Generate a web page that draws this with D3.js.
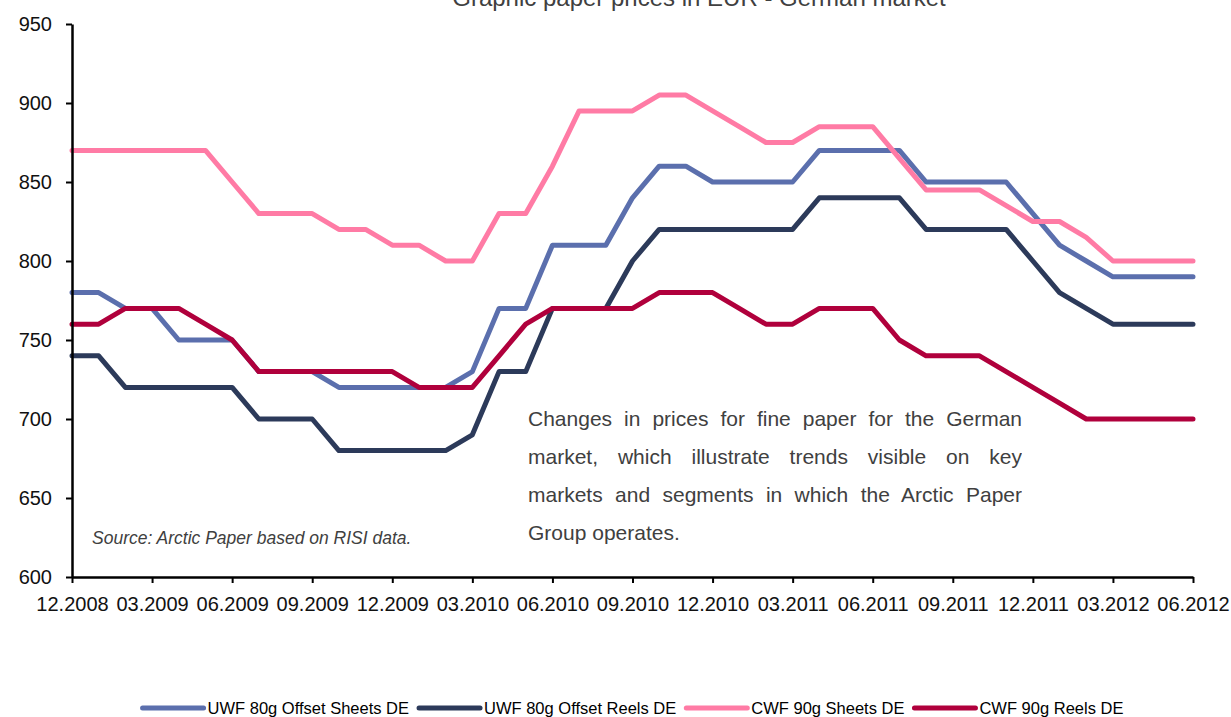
<!DOCTYPE html>
<html>
<head>
<meta charset="utf-8">
<script src="https://d3js.org/d3.v7.min.js"></script>
<style>
  body { margin: 0; background: #fff; font-family: "Liberation Sans", Arial, sans-serif; }
  .axis .domain { stroke: #000; stroke-width: 2.5px; }
  .axis line { stroke: #000; stroke-width: 2px; }
  .axis text { font-size: 20px; fill: #111; font-family: "Liberation Sans", Arial, sans-serif; }
  .note { font-size: 21px; color: #404040; line-height: 38px; font-family: "Liberation Sans", Arial, sans-serif; }
  .note span { display: block; text-align: justify; text-align-last: justify; }
  .note span.last { text-align-last: left; }
</style>
</head>
<body>
<svg id="chart" width="1231" height="717"></svg>
<script>
// month keys 12.2008 .. 06.2012
const months = [];
for (let i = 0; i < 43; i++) {
  const m = (11 + i) % 12 + 1, y = 2008 + Math.floor((11 + i) / 12);
  months.push((m < 10 ? "0" : "") + m + "." + y);
}
const tickLabels = ["12.2008","03.2009","06.2009","09.2009","12.2009","03.2010","06.2010","09.2010",
                    "12.2010","03.2011","06.2011","09.2011","12.2011","03.2012","06.2012"];
const yTicks = [600, 650, 700, 750, 800, 850, 900, 950];

const uwfSheets = [780,780,770,770,750,750,750,730,730,730,720,720,720,720,720,730,770,770,810,810,810,840,
                   860,860,850,850,850,850,870,870,870,870,850,850,850,850,830,810,800,790,790,790,790];
const uwfReels  = [740,740,720,720,720,720,720,700,700,700,680,680,680,680,680,690,730,730,770,770,770,800,
                   820,820,820,820,820,820,840,840,840,840,820,820,820,820,800,780,770,760,760,760,760];
const cwfSheets = [870,870,870,870,870,870,850,830,830,830,820,820,810,810,800,800,830,830,860,895,895,895,
                   905,905,895,885,875,875,885,885,885,865,845,845,845,835,825,825,815,800,800,800,800];
const cwfReels  = [760,760,770,770,770,760,750,730,730,730,730,730,730,720,720,720,740,760,770,770,770,770,
                   780,780,780,770,760,760,770,770,770,750,740,740,740,730,720,710,700,700,700,700,700];

const seriesNames = ["UWF 80g Offset Sheets DE", "UWF 80g Offset Reels DE", "CWF 90g Sheets DE", "CWF 90g Reels DE"];
const seriesColors = ["#5b6fad", "#2c3a5a", "#ff7ba5", "#b0003c"];
const seriesValues = [uwfSheets, uwfReels, cwfSheets, cwfReels];

const svg = d3.select("#chart");

const x = d3.scalePoint().domain(months).range([72, 1193]);
const y = d3.scaleLinear().domain([600, 950]).range([577, 24]);

// title (partly cut off at the top, like the source)
svg.append("text")
  .attr("x", 699).attr("y", 6)
  .attr("text-anchor", "middle")
  .style("font-size", "24px").style("fill", "#404040")
  .text("Graphic paper prices in EUR - German market");

// lines
const line = d3.line().x((d, i) => x(months[i])).y(d => y(d));
seriesValues.forEach((vals, k) => {
  svg.append("path")
    .datum(vals)
    .attr("d", line)
    .attr("fill", "none")
    .attr("stroke", seriesColors[k])
    .attr("stroke-width", 5)
    .attr("stroke-linejoin", "round")
    .attr("stroke-linecap", "round");
});

// axes
svg.append("g").attr("class", "axis")
  .attr("transform", "translate(72,0)")
  .call(d3.axisLeft(y).tickValues(yTicks).tickSize(6).tickSizeOuter(0).tickPadding(14).tickFormat(d3.format("d")));

svg.append("g").attr("class", "axis")
  .attr("transform", "translate(0,577)")
  .call(d3.axisBottom(x).tickValues(tickLabels).tickSize(6).tickSizeOuter(0).tickPadding(14));

// source note
svg.append("text")
  .attr("x", 92).attr("y", 544)
  .style("font-size", "17.5px").style("font-style", "italic").style("fill", "#404040")
  .text("Source: Arctic Paper based on RISI data.");

// justified commentary box
const noteLines = ["Changes in prices for fine paper for the German",
                   "market, which illustrate trends visible on key",
                   "markets and segments in which the Arctic Paper",
                   "Group operates."];
const fo = svg.append("foreignObject").attr("x", 528).attr("y", 400).attr("width", 494).attr("height", 160);
const note = fo.append("xhtml:div").attr("class", "note");
note.selectAll("span").data(noteLines).join("span")
  .attr("class", (d, i) => i === noteLines.length - 1 ? "last" : null)
  .text(d => d);

// legend
const legend = svg.append("g");
let lx = 0;
seriesNames.forEach((name, k) => {
  const g = legend.append("g").attr("transform", `translate(${lx},0)`);
  g.append("line").attr("x1", 2).attr("x2", 63).attr("y1", 0).attr("y2", 0)
    .attr("stroke", seriesColors[k]).attr("stroke-width", 5).attr("stroke-linecap", "round");
  const t = g.append("text").attr("x", 67).attr("y", 6)
    .style("font-size", "16.5px").style("fill", "#000").text(name);
  lx += 67 + t.node().getComputedTextLength() + 8;
});
legend.attr("transform", `translate(${632 - (lx - 8) / 2},708)`);
</script>
</body>
</html>
